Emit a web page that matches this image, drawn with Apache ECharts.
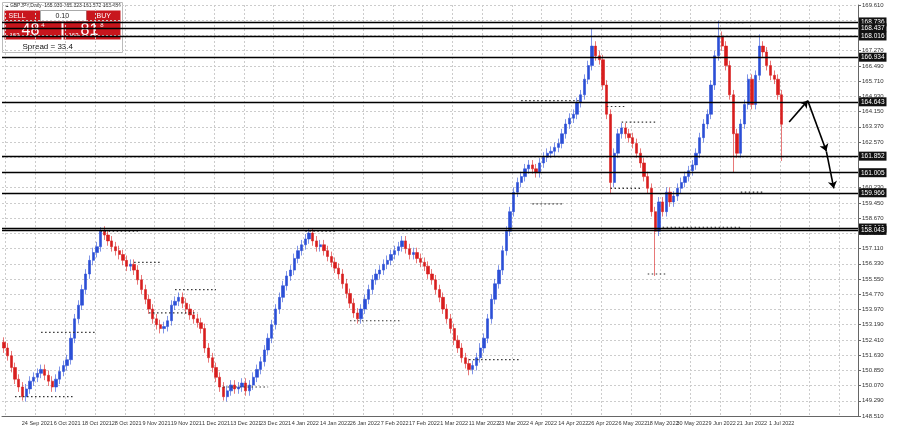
<!DOCTYPE html>
<html><head><meta charset="utf-8">
<script src="https://cdn.jsdelivr.net/npm/echarts@6/dist/echarts.min.js"></script>
<style>html,body{margin:0;background:#fff}#c{width:900px;height:432px}</style>
</head><body><div id="c"></div>
<script>
// daily closes GBPJPY, bar 0 = 13 Sep 2021
var closes = [
152.0,151.6,151.0,150.4,150.0,149.5,149.9,150.3,150.5,150.7,
150.9,150.6,150.3,150.0,150.4,150.8,151.1,151.4,152.5,153.5,
154.2,155.0,155.8,156.5,156.9,157.2,158.0,157.8,157.5,157.2,
157.0,156.8,156.5,156.2,156.3,156.0,155.5,155.0,154.5,154.0,
153.5,153.2,153.0,153.1,153.4,154.2,154.4,154.6,154.3,154.0,
153.7,153.5,153.3,153.0,152.0,151.5,151.0,150.5,150.0,149.5,
149.8,150.1,149.9,150.0,150.2,149.8,150.1,150.5,150.9,151.3,
151.9,152.5,153.2,154.0,154.6,155.2,155.7,156.0,156.6,157.0,
157.3,157.6,157.9,157.5,157.2,157.3,157.0,156.7,156.4,156.1,
155.8,155.3,154.8,154.3,153.8,153.5,154.0,154.5,155.0,155.5,
155.8,156.0,156.3,156.5,156.8,157.0,157.2,157.5,157.1,156.8,
156.9,156.6,156.4,156.2,155.8,155.5,155.0,154.6,154.0,153.5,
153.0,152.4,152.0,151.5,151.2,150.9,151.1,151.5,152.0,152.5,
153.5,154.5,155.3,156.0,157.0,158.0,159.0,160.0,160.5,160.8,
161.2,161.4,161.2,161.0,161.5,161.8,162.0,162.1,162.3,162.5,
163.0,163.5,163.8,164.0,164.6,165.0,165.8,166.5,167.5,167.0,
166.8,165.5,164.0,160.5,162.0,163.0,163.3,163.0,162.8,162.5,
162.0,161.5,160.8,160.2,159.0,158.0,159.5,159.0,160.0,159.5,
159.8,160.2,160.5,160.8,161.1,161.4,162.0,162.8,163.5,164.0,
165.5,167.0,168.0,167.5,166.5,165.0,163.0,162.0,163.5,164.5,
165.8,164.5,166.0,167.5,167.2,166.5,166.0,165.8,165.0,163.484];
// bars whose wick reaches further than the body
var lowWicks = {163:159.9, 175:155.7, 196:161.0, 209:161.6, 5:149.3, 59:149.3, 125:150.6};
var highWicks = {158:168.4, 192:168.8, 203:168.1, 26:158.2};
var levels = [168.736, 168.437, 168.016, 166.934, 164.643, 161.852, 161.005, 159.966, 158.161, 158.043];
var dotted = [[3,19,149.5],[10,25,152.8],[26,36,158.0],[35,42,156.4],[39,52,153.8],[46,57,155.0],
  [59,71,150.0],[81,89,158.0],[93,107,153.4],[107,118,158.1],[125,139,151.4],[139,155,164.7],
  [142,150,159.4],[162,167,164.4],[166,175,163.6],[163,171,160.2],[173,178,155.8],[177,198,158.2],
  [194,199,168.7],[198,204,160.0]];
var arrows = [[[211,163.6],[216,164.7]],[[216,164.7],[221,162.1]],[[221,162.1],[223,160.2]]];
var tickLabels = ['148.510','149.290','150.070','150.850','151.630','152.410','153.190','153.970',
  '154.770','155.550','156.330','157.110','157.890','158.670','159.450','160.230','161.010','161.790',
  '162.570','163.370','164.150','164.930','165.710','166.490','167.270','168.050','168.830','169.610'];
var totalBars = 230;

var months = ['Jan','Feb','Mar','Apr','May','Jun','Jul','Aug','Sep','Oct','Nov','Dec'];
var cats = [], d = new Date(2021, 8, 13);
while (cats.length < totalBars) {
  if (d.getDay() > 0 && d.getDay() < 6) cats.push(d.getDate() + ' ' + months[d.getMonth()] + ' ' + d.getFullYear());
  d.setDate(d.getDate() + 1);
}
var candles = closes.map(function (c, i) {
  var o = i ? closes[i - 1] : 152.3;
  var lo = lowWicks[i] != null ? lowWicks[i] : Math.min(o, c) - 0.25;
  var hi = highWicks[i] != null ? highWicks[i] : Math.max(o, c) + 0.25;
  return [o, c, lo, hi];
});

var series = [{
  type: 'candlestick', data: candles, barWidth: 2.8,
  itemStyle: {color: '#2b4fd6', color0: '#d81e1e', borderColor: '#2b4fd6', borderColor0: '#d81e1e', borderWidth: 0.6},
  markLine: {
    silent: true, symbol: 'none', animation: false,
    lineStyle: {color: '#000', type: 'solid', width: 1.3},
    label: {position: 'end', distance: 1, color: '#fff', backgroundColor: '#111', fontSize: 6.5, padding: [1, 2],
      formatter: function (p) { return levels[p.dataIndex].toFixed(3); }},
    data: levels.map(function (v) { return {yAxis: v}; })
  }
}];
dotted.forEach(function (s) {
  series.push({type: 'line', data: [[s[0], s[2]], [s[1], s[2]]], symbol: 'none', silent: true,
    lineStyle: {color: '#333', type: [1.5, 2.5], width: 1.2}});
});
series.push({type: 'lines', coordinateSystem: 'cartesian2d', symbol: ['none', 'arrow'], symbolSize: 7,
  lineStyle: {color: '#000', width: 1.6, opacity: 1},
  data: arrows.map(function (a) { return {coords: a}; })});

var priceRich = {s: {fontSize: 6, fill: '#fff', verticalAlign: 'bottom', padding: [0, 2, 0, 0]},
  b: {fontSize: 16, fill: '#fff', fontFamily: 'Liberation Sans'},
  t: {fontSize: 6, fill: '#fff', verticalAlign: 'top', padding: [0, 0, 0, 2]}};

var chart = echarts.init(document.getElementById('c'));
chart.setOption({
  animation: false,
  grid: {left: 2, right: 42, top: 5, bottom: 16},
  xAxis: {type: 'category', data: cats, boundaryGap: true,
    axisLine: {lineStyle: {color: '#666'}}, axisTick: {show: false},
    axisLabel: {interval: function (i) { return i % 8 === 1 && i < closes.length; }, fontSize: 5.5, color: '#333', margin: 4},
    splitLine: {show: true, interval: function (i) { return i % 8 === 1; }, lineStyle: {color: '#ccc', type: [2, 2]}}},
  yAxis: [
    {type: 'value', min: 148.51, max: 169.61, position: 'right', axisLabel: {show: false},
      splitLine: {show: false}, axisLine: {show: true, lineStyle: {color: '#666'}}, axisTick: {show: false}},
    {type: 'category', data: tickLabels, boundaryGap: false, position: 'right',
      axisLine: {show: false}, axisTick: {show: true, length: 3, lineStyle: {color: '#666'}},
      axisLabel: {fontSize: 6, color: '#333', margin: 4},
      splitLine: {show: true, lineStyle: {color: '#ccc', type: [2, 2]}}}
  ],
  series: series,
  graphic: {type: 'group', left: 2, top: 2, z: 100, children: [
    {type: 'rect', shape: {x: 0, y: 0, width: 120, height: 50}, style: {fill: '#fff', stroke: '#bbb'}},
    {type: 'text', x: 3, y: 1, style: {text: '\u25B4 GBPJPY,Daily  165.030 165.323 161.572 163.484', fontSize: 5, fill: '#222'}},
    {type: 'rect', shape: {x: 2, y: 8, width: 36, height: 11}, style: {fill: '#c8161d'}},
    {type: 'text', x: 6, y: 10, style: {text: 'SELL', fontSize: 7, fill: '#fff'}},
    {type: 'rect', shape: {x: 38, y: 8, width: 46, height: 11}, style: {fill: '#fff', stroke: '#aaa'}},
    {type: 'text', x: 53, y: 10, style: {text: '0.10', fontSize: 7, fill: '#222'}},
    {type: 'rect', shape: {x: 84, y: 8, width: 34, height: 11}, style: {fill: '#c8161d'}},
    {type: 'text', x: 94, y: 10, style: {text: 'BUY', fontSize: 7, fill: '#fff'}},
    {type: 'rect', shape: {x: 2, y: 19, width: 57, height: 18}, style: {fill: '#c8161d'}},
    {type: 'text', x: 7, y: 20, style: {text: '{s|163}{b|48}{t|4}', rich: priceRich}},
    {type: 'rect', shape: {x: 61, y: 19, width: 57, height: 18}, style: {fill: '#c8161d'}},
    {type: 'text', x: 66, y: 20, style: {text: '{s|163}{b|81}{t|8}', rich: priceRich}},
    {type: 'text', x: 20, y: 40, style: {text: 'Spread = 33.4', fontSize: 8, fill: '#111'}}
  ]}
});
</script></body></html>
